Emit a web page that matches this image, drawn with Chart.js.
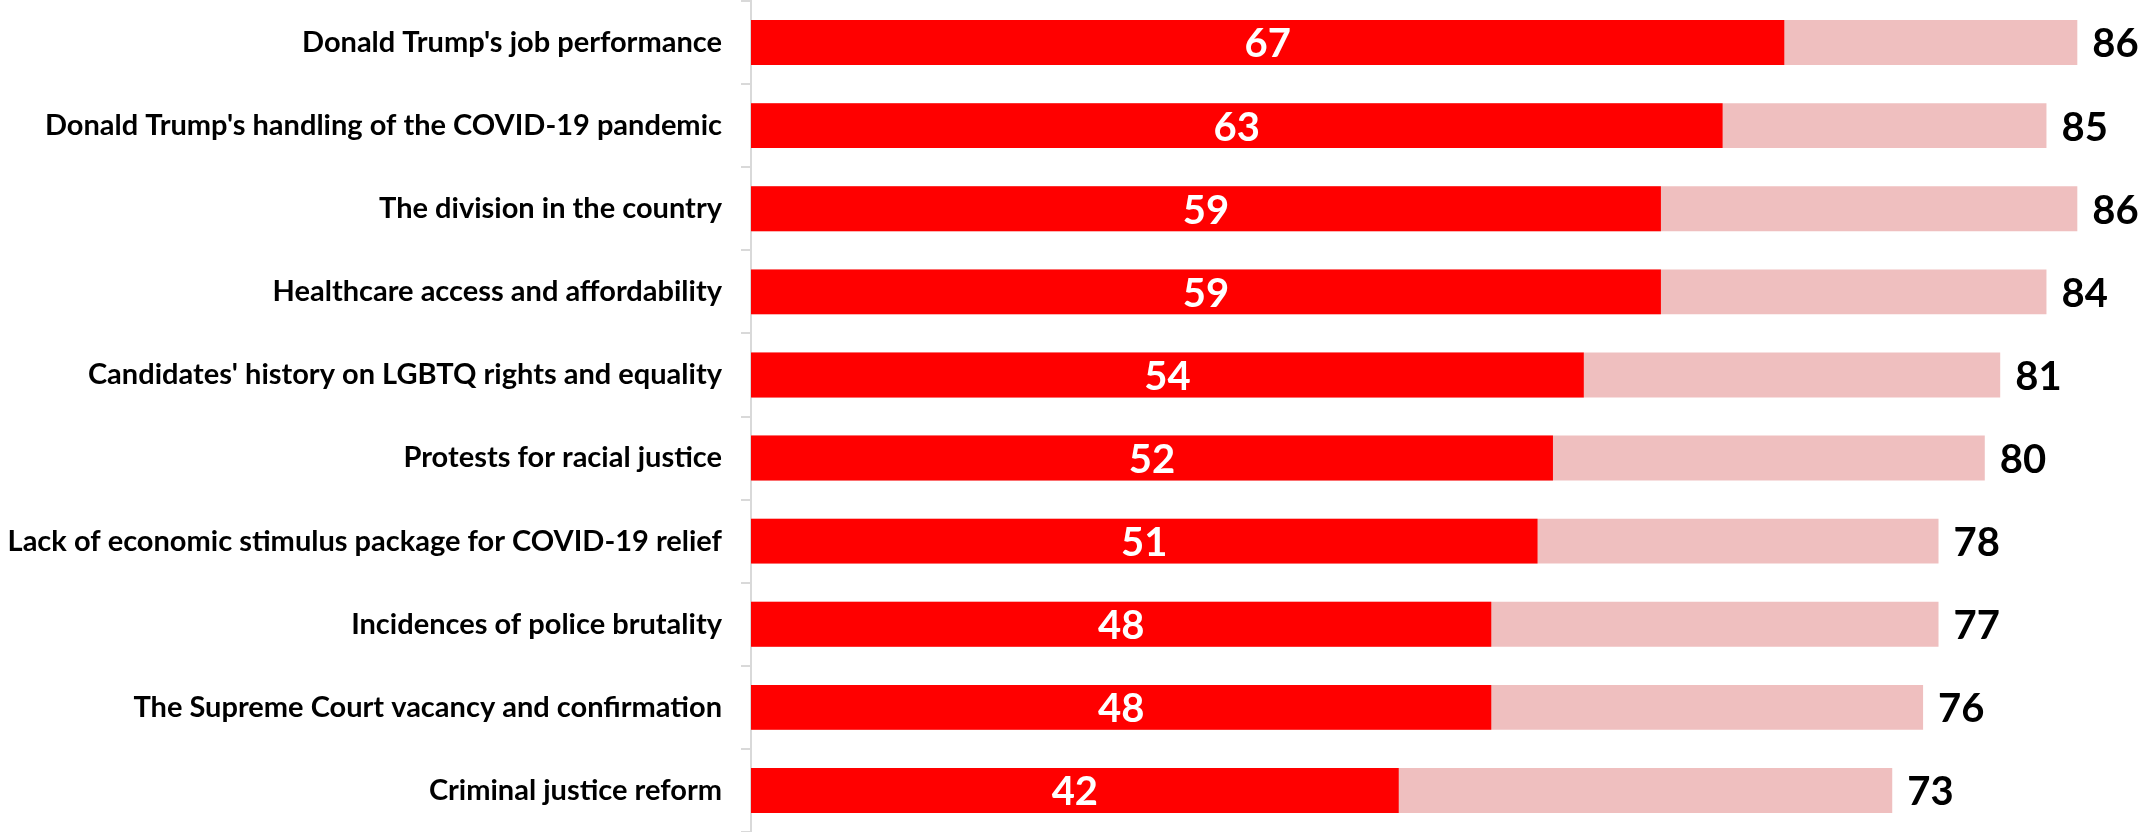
<!DOCTYPE html>
<html>
<head>
<meta charset="utf-8">
<script src="https://cdn.jsdelivr.net/npm/chart.js@4"></script>
<style>
  html, body { margin: 0; padding: 0; background: #ffffff; }
  #wrap { width: 2144px; height: 832px; }
</style>
</head>
<body>
<div id="wrap"><canvas id="chart" width="2144" height="832"></canvas></div>
<script>
const categories = [
    "Donald Trump's job performance",
    "Donald Trump's handling of the COVID-19 pandemic",
    "The division in the country",
    "Healthcare access and affordability",
    "Candidates' history on LGBTQ rights and equality",
    "Protests for racial justice",
    "Lack of economic stimulus package for COVID-19 relief",
    "Incidences of police brutality",
    "The Supreme Court vacancy and confirmation",
    "Criminal justice reform"
];
const strongValues = [67, 63, 59, 59, 54, 52, 51, 48, 48, 42];
// pink bar lengths as drawn in the picture
const totalValues = [86, 84, 86, 84, 81, 80, 77, 77, 76, 74];
// printed totals (rounded separately, so a few differ from the bar length)
const totalLabels = ['86', '85', '86', '84', '81', '80', '78', '77', '76', '73'];

const FONT = 'Lato, "Open Sans", sans-serif';

// numbers inside the red bars and after the pink bars
const valueLabels = {
    id: 'valueLabels',
    afterDatasetsDraw(chart) {
        const ctx = chart.ctx;
        ctx.save();
        ctx.font = 'bold 40px ' + FONT;
        ctx.textBaseline = 'middle';

        const inner = chart.getDatasetMeta(0);
        ctx.fillStyle = '#ffffff';
        ctx.textAlign = 'center';
        inner.data.forEach(function (bar, i) {
            ctx.fillText(strongValues[i], (bar.base + bar.x) / 2, bar.y + 2);
        });

        const outer = chart.getDatasetMeta(1);
        ctx.fillStyle = '#000000';
        ctx.textAlign = 'left';
        outer.data.forEach(function (bar, i) {
            ctx.fillText(totalLabels[i], bar.x + 15, bar.y + 2);
        });
        ctx.restore();
    }
};

new Chart(document.getElementById('chart').getContext('2d'), {
    type: 'bar',
    data: {
        labels: categories,
        datasets: [{
            label: 'Strong',
            data: strongValues,
            backgroundColor: '#ff0000',
            grouped: false,
            categoryPercentage: 0.54,
            barPercentage: 1
        }, {
            label: 'Total',
            data: totalValues,
            backgroundColor: '#efbfbf',
            grouped: false,
            categoryPercentage: 0.54,
            barPercentage: 1
        }]
    },
    options: {
        indexAxis: 'y',
        responsive: false,
        animation: false,
        layout: { padding: { top: 1, bottom: 0, left: 0, right: 5 } },
        plugins: {
            legend: { display: false },
            tooltip: { enabled: false }
        },
        scales: {
            x: {
                display: false,
                min: 0,
                max: 90
            },
            y: {
                afterFit: function (scale) {
                    scale.width = 751;
                    scale.paddingTop = 0;
                    scale.paddingBottom = 0;
                },
                border: { display: true, color: '#d9d9d9', width: 2 },
                grid: {
                    offset: true,
                    drawOnChartArea: false,
                    drawTicks: true,
                    tickLength: 10,
                    color: '#d9d9d9',
                    lineWidth: 2
                },
                ticks: {
                    color: '#000000',
                    padding: 19,
                    font: { family: FONT, weight: 'bold', size: 29 }
                }
            }
        }
    },
    plugins: [valueLabels]
});
</script>
</body>
</html>
